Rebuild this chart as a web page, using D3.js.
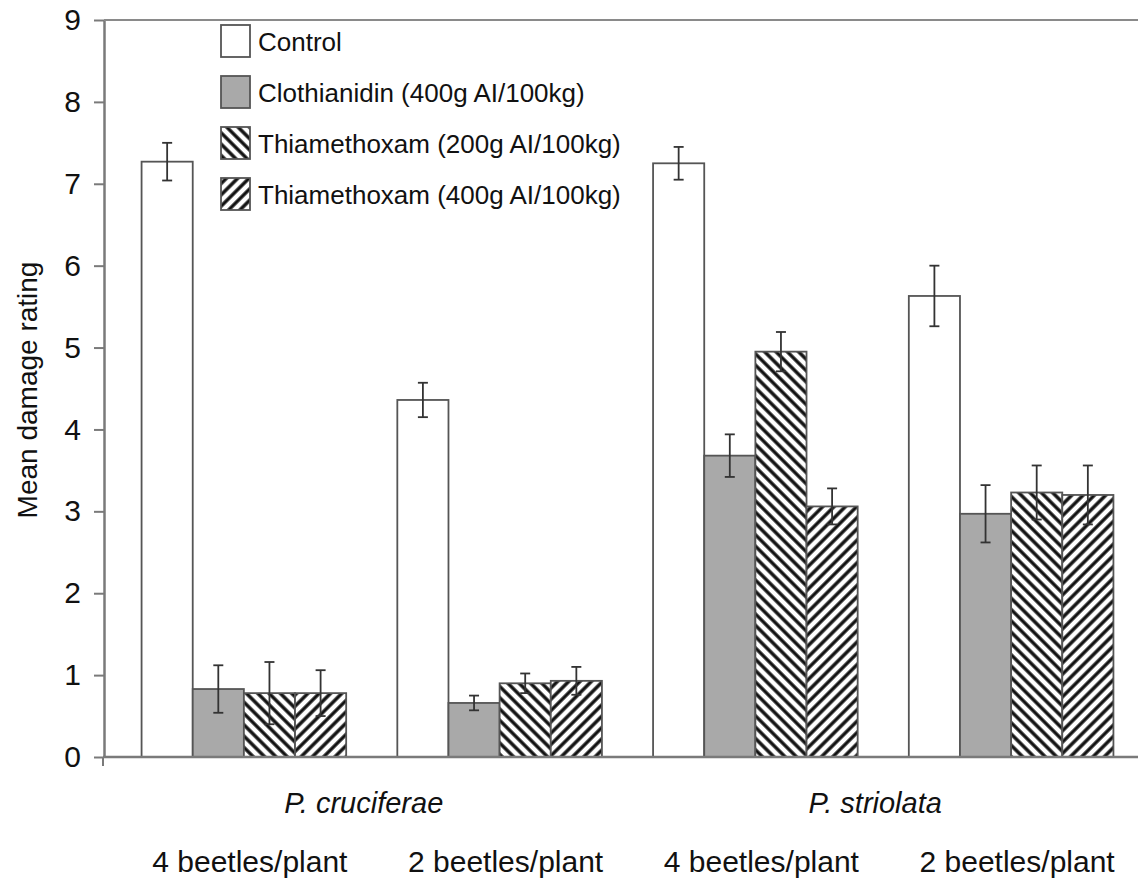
<!DOCTYPE html>
<html lang="en">
<head>
    <meta charset="UTF-8">
    <title>Mean damage rating</title>
    <script src="https://d3js.org/d3.v7.min.js"></script>
    <style>
        body { margin: 0; background: #fff; }
        text { font-family: "Liberation Sans", Arial, sans-serif; fill: #111; }
    </style>
</head>
<body>
    <svg id="chart"></svg>

    <script>
        // chart values
        const treatments = ["Control", "Clothianidin (400g AI/100kg)", "Thiamethoxam (200g AI/100kg)", "Thiamethoxam (400g AI/100kg)"];
        const groups = ["cru4", "cru2", "str4", "str2"];
        const densityLabels = ["4 beetles/plant", "2 beetles/plant", "4 beetles/plant", "2 beetles/plant"];
        const species = ["P. cruciferae", "P. striolata"];

        const controlMean = [7.27, 4.36, 7.25, 5.63];
        const clothMean = [0.83, 0.66, 3.68, 2.97];
        const thia200Mean = [0.78, 0.90, 4.95, 3.23];
        const thia400Mean = [0.78, 0.93, 3.06, 3.20];

        const controlErr = [0.23, 0.21, 0.20, 0.37];
        const clothErr = [0.29, 0.09, 0.26, 0.35];
        const thia200Err = [0.38, 0.12, 0.24, 0.33];
        const thia400Err = [0.28, 0.17, 0.22, 0.36];

        const yTicks = [0, 1, 2, 3, 4, 5, 6, 7, 8, 9];

        const means = [controlMean, clothMean, thia200Mean, thia400Mean];
        const errs = [controlErr, clothErr, thia200Err, thia400Err];

        const width = 1138;
        const height = 878;

        const svg = d3.select("#chart")
            .attr("width", width)
            .attr("height", height);

        // hatch patterns for the thiamethoxam bars
        const defs = svg.append("defs");
        function hatch(id, angle) {
            const p = defs.append("pattern")
                .attr("id", id)
                .attr("patternUnits", "userSpaceOnUse")
                .attr("width", 8)
                .attr("height", 8)
                .attr("patternTransform", `rotate(${angle})`);
            p.append("rect").attr("width", 8).attr("height", 8).attr("fill", "#fff");
            p.append("line")
                .attr("x1", 4).attr("y1", 0).attr("x2", 4).attr("y2", 8)
                .attr("stroke", "#111").attr("stroke-width", 3.4);
        }
        hatch("back", -45);
        hatch("fwd", 45);

        const fills = ["#ffffff", "#a9a9a9", "url(#back)", "url(#fwd)"];

        // scales
        const y = d3.scaleLinear().domain([0, 9]).range([757, 20]);

        const x0 = d3.scaleBand()
            .domain(groups)
            .range([116, 1139])
            .paddingInner(0.2)
            .paddingOuter(0.1);

        const x1 = d3.scaleBand()
            .domain(d3.range(treatments.length))
            .range([0, x0.bandwidth()]);

        // bars, flattened out of the arrays above
        const barData = [];
        groups.forEach((g, gi) => {
            treatments.forEach((t, ti) => {
                barData.push({ g: g, t: ti, v: means[ti][gi], e: errs[ti][gi] });
            });
        });

        const bars = svg.append("g");
        bars.selectAll("rect")
            .data(barData)
            .enter()
            .append("rect")
            .attr("x", d => x0(d.g) + x1(d.t))
            .attr("y", d => y(d.v))
            .attr("width", x1.bandwidth())
            .attr("height", d => y(0) - y(d.v))
            .attr("fill", d => fills[d.t])
            .attr("stroke", "#555")
            .attr("stroke-width", 1.8);

        // error bars
        const eb = svg.append("g")
            .attr("stroke", "#333")
            .attr("stroke-width", 1.8);
        const ebg = eb.selectAll("g")
            .data(barData)
            .enter()
            .append("g")
            .attr("transform", d => `translate(${x0(d.g) + x1(d.t) + x1.bandwidth() / 2},0)`);
        ebg.append("line")
            .attr("y1", d => y(d.v + d.e))
            .attr("y2", d => y(d.v - d.e));
        ebg.append("line")
            .attr("x1", -5).attr("x2", 5)
            .attr("y1", d => y(d.v + d.e))
            .attr("y2", d => y(d.v + d.e));
        ebg.append("line")
            .attr("x1", -5).attr("x2", 5)
            .attr("y1", d => y(d.v - d.e))
            .attr("y2", d => y(d.v - d.e));

        // y axis
        const yAxis = svg.append("g")
            .attr("transform", "translate(104,0)")
            .call(d3.axisLeft(y).tickValues(yTicks).tickSize(10).tickPadding(13).tickSizeOuter(0));
        yAxis.select(".domain").attr("stroke", "#7a7a7a").attr("stroke-width", 2.5);
        yAxis.selectAll(".tick line").attr("stroke", "#7a7a7a").attr("stroke-width", 2);
        yAxis.selectAll(".tick text")
            .style("font-size", "30px")
            .attr("fill", "#111");

        // x axis line, small tick at origin, and top border line
        svg.append("line")
            .attr("x1", 103).attr("x2", width)
            .attr("y1", y(0)).attr("y2", y(0))
            .attr("stroke", "#7a7a7a").attr("stroke-width", 2.5);
        svg.append("line")
            .attr("x1", 103).attr("x2", 103)
            .attr("y1", y(0)).attr("y2", y(0) + 9)
            .attr("stroke", "#7a7a7a").attr("stroke-width", 2);
        svg.append("line")
            .attr("x1", 104).attr("x2", width)
            .attr("y1", y(9)).attr("y2", y(9))
            .attr("stroke", "#8a8a8a").attr("stroke-width", 2);

        // axis title
        svg.append("text")
            .attr("transform", "translate(37,390) rotate(-90)")
            .attr("text-anchor", "middle")
            .style("font-size", "28px")
            .text("Mean damage rating");

        // species labels, centred under their two groups
        species.forEach((s, i) => {
            const a = x0(groups[i * 2]);
            const b = x0(groups[i * 2 + 1]) + x0.bandwidth();
            svg.append("text")
                .attr("x", (a + b) / 2 - 8)
                .attr("y", 813)
                .attr("text-anchor", "middle")
                .style("font-size", "29px")
                .style("font-style", "italic")
                .text(s);
        });

        // beetle density labels
        svg.append("g").selectAll("text")
            .data(groups)
            .enter()
            .append("text")
            .attr("x", (d, i) => x0(d) + x0.bandwidth() / 2 + 6)
            .attr("y", 872)
            .attr("text-anchor", "middle")
            .style("font-size", "30px")
            .text((d, i) => densityLabels[i]);

        // legend
        const legend = svg.append("g").attr("transform", "translate(221,25)");
        const items = legend.selectAll("g")
            .data(treatments)
            .enter()
            .append("g")
            .attr("transform", (d, i) => `translate(0,${i * 51})`);
        items.append("rect")
            .attr("width", 29)
            .attr("height", 32)
            .attr("fill", (d, i) => fills[i])
            .attr("stroke", "#555")
            .attr("stroke-width", 1.8);
        items.append("text")
            .attr("x", 37)
            .attr("y", 26)
            .style("font-size", "26px")
            .text(d => d);
    </script>
</body>
</html>
